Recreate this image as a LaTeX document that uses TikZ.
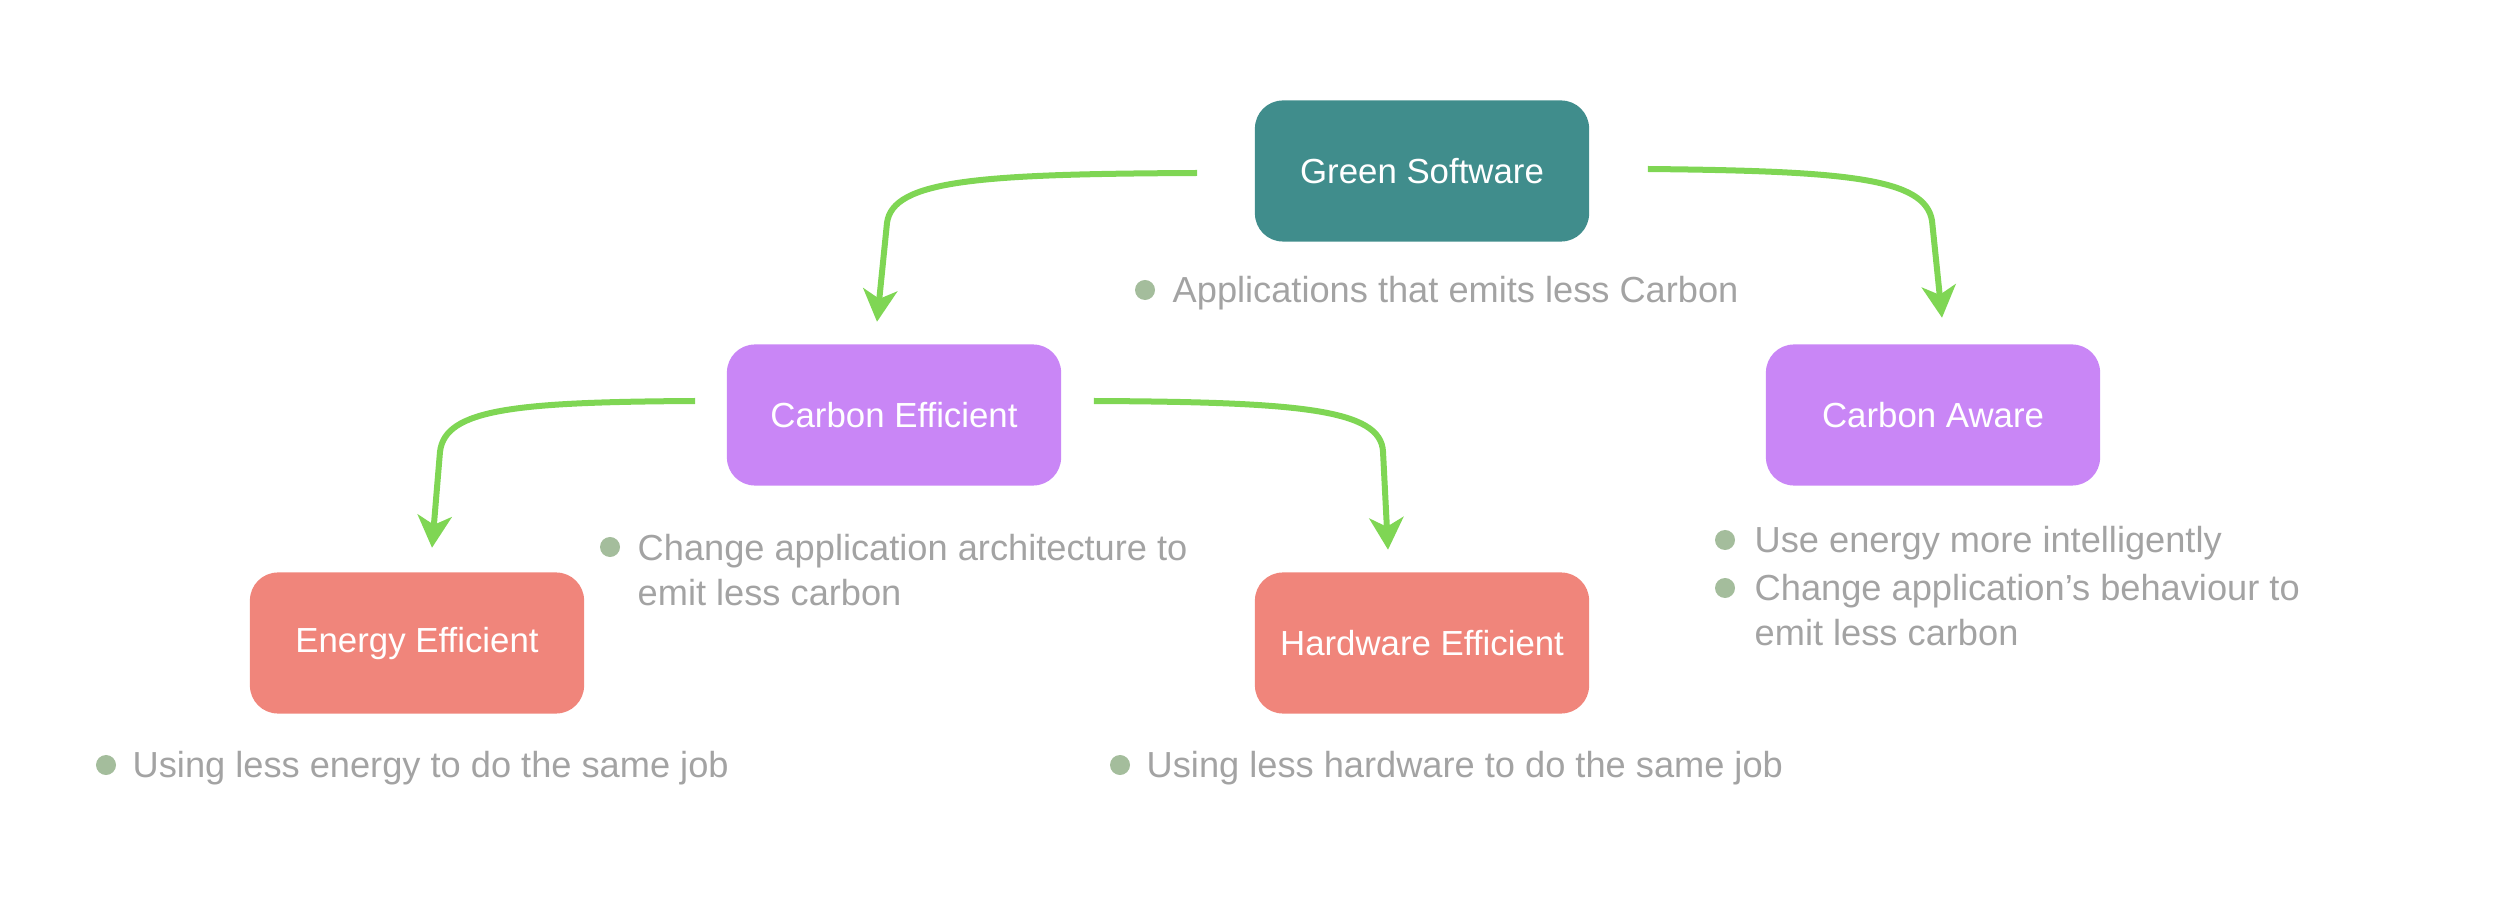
\documentclass[tikz,border=0pt]{standalone}
\usepackage{fontspec}
\setmainfont{Liberation Sans}
\usetikzlibrary{calc}
\usetikzlibrary{arrows.meta}
\definecolor{gsteal}{HTML}{408D8C}
\definecolor{lilac}{HTML}{C986F6}
\definecolor{salmon}{HTML}{F0857B}
\definecolor{flowgreen}{HTML}{7FD654}
\definecolor{notegray}{HTML}{A3A3A3}
\definecolor{dotsage}{HTML}{A4BD9C}
\tikzset{
box/.style={
  rectangle,
  rounded corners=0.28cm,
  minimum width=3.34cm,
  minimum height=1.41cm,
  inner sep=0pt,
  align=center,
  text=white,
  font=\fontsize{9.9}{12}\selectfont
  },
note/.style={
  anchor=base west,
  inner sep=0pt,
  align=left,
  text=notegray,
  font=\fontsize{10.3}{13}\selectfont
  },
dot/.style={
  circle,
  inner sep=0pt,
  minimum size=0.2cm,
  fill=dotsage
  },
flow/.style={
  draw=flowgreen,
  line width=0.06cm,
  -{Stealth[length=0.32cm,width=0.34cm,inset=0.09cm]}
  }
}
\begin{document}
\begin{tikzpicture}[x=0.01cm,y=-0.01cm]
    \useasboundingbox (0,0) rectangle (2516,910);
    % boxes
    \node[box,fill=gsteal] (gs) at (1422,171) {Green Software};
    \node[box,fill=lilac]  (ce) at (894,415)  {Carbon Efficient};
    \node[box,fill=lilac]  (ca) at (1933,415) {Carbon Aware};
    \node[box,fill=salmon] (ee) at (417,643)  {Energy Efficient};
    \node[box,fill=salmon] (he) at (1422,643) {Hardware Efficient};
    % notes (base of a two-line note is its last line)
    \node[dot]  (gsdot)   at (1145,290) {};
    \node[note] (gsnote)  at (1172,303) {Applications that emits less Carbon};
    \node[dot]  (cedot)   at (610,547)  {};
    \node[note] (cenote)  at (637,606)  {Change application architecture to\\emit less carbon};
    \node[dot]  (cadota)  at (1725,540) {};
    \node[note] (canotea) at (1754,553) {Use energy more intelligently};
    \node[dot]  (cadotb)  at (1725,588) {};
    \node[note] (canoteb) at (1754,646) {Change application’s behaviour to\\emit less carbon};
    \node[dot]  (eedot)   at (106,765)  {};
    \node[note] (eenote)  at (132,777)  {Using less energy to do the same job};
    \node[dot]  (hedot)   at (1120,765) {};
    \node[note] (henote)  at (1146,777) {Using less hardware to do the same job};
    % arrows
    \draw[flow] ($(gs.west)+(-57,2)$) .. controls ($(gs.west)+(-275,3)$) and ($(ce.north |- gs.west)+(-1,9)$)
        .. ($(ce.north)+(-7,-121)$) -- ($(ce.north)+(-17,-22)$);
    \draw[flow] ($(gs.east)+(58,-2)$) .. controls ($(gs.east)+(257,0)$) and ($(ca.north |- gs.east)+(-8,7)$)
        .. ($(ca.north)+(-1,-123)$) -- ($(ca.north)+(9,-26)$);
    \draw[flow] ($(ce.west)+(-31,-14)$) .. controls ($(ce.west)+(-211,-13)$) and ($(ee.north |- ce.west)+(28,-6)$)
        .. ($(ee.north)+(23,-120)$) -- ($(ee.north)+(15,-24)$);
    \draw[flow] ($(ce.east)+(32,-14)$) .. controls ($(ce.east)+(237,-13)$) and ($(he.north |- ce.east)+(-41,-6)$)
        .. ($(he.north)+(-39,-120)$) -- ($(he.north)+(-34,-22)$);
\end{tikzpicture}
\end{document}
